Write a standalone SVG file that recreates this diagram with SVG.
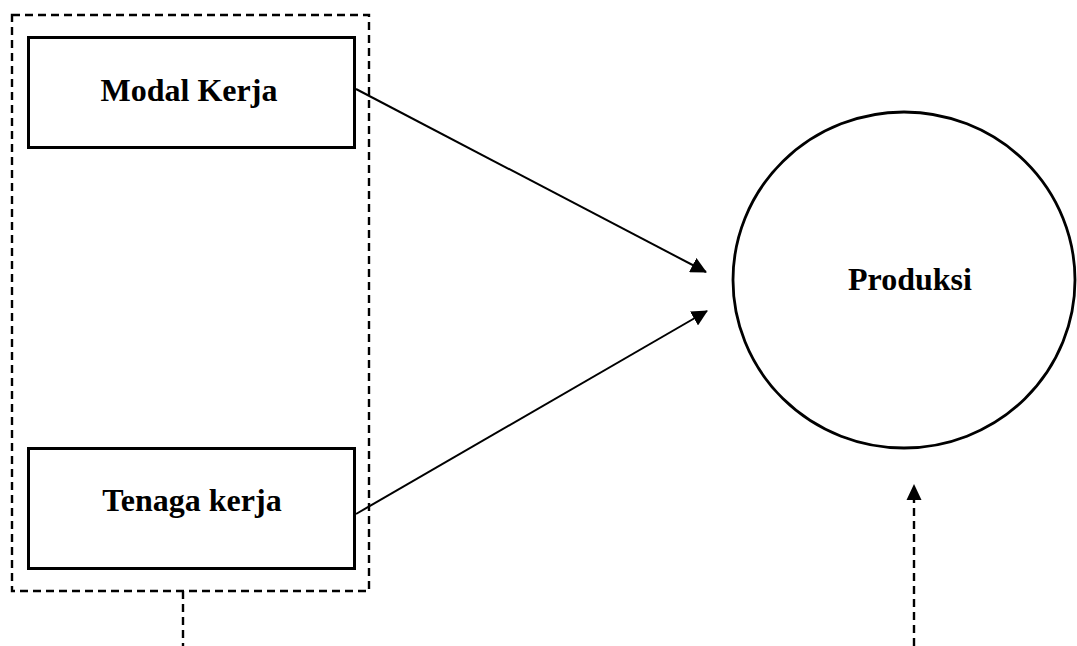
<svg xmlns="http://www.w3.org/2000/svg" width="1077" height="646" viewBox="0 0 1077 646">
<style>
.box{fill:#fff;stroke:#000;stroke-width:3}
.dash{fill:none;stroke:#000;stroke-width:2.4;stroke-dasharray:8,5}
.ln{fill:none;stroke:#000;stroke-width:2}
.lbl{font-family:"Liberation Serif","Times New Roman",serif;font-weight:bold;font-size:32px;text-anchor:middle;fill:#000}
</style>
<defs>
<marker id="ah2" markerWidth="16" markerHeight="16" refX="15" refY="8" orient="auto" markerUnits="userSpaceOnUse" viewBox="0 0 16 16">
<path d="M0,0 L16,8 L0,16 Z" fill="#000"/>
</marker>
</defs>
<g id="group">
<rect class="dash" x="12" y="15" width="357" height="576"/>
</g>
<g id="modal">
<rect class="box" x="28.5" y="37.5" width="326" height="110"/>
<text class="lbl" x="189" y="101">Modal Kerja</text>
</g>
<g id="tenaga">
<rect class="box" x="28.5" y="448.5" width="326" height="120"/>
<text class="lbl" x="192" y="511">Tenaga kerja</text>
</g>
<g id="produksi">
<ellipse cx="904" cy="280" rx="171" ry="168" fill="#fff" stroke="#000" stroke-width="2.8"/>
<text class="lbl" x="910" y="290">Produksi</text>
</g>
<g id="connectors">
<line class="ln" x1="356" y1="89" x2="706" y2="272" marker-end="url(#ah2)"/>
<line class="ln" x1="356" y1="514" x2="707" y2="311" marker-end="url(#ah2)"/>
<line class="dash" x1="183" y1="591" x2="183" y2="646"/>
<line class="dash" x1="914" y1="646" x2="914" y2="500"/>
<path d="M914,484 L906.5,500 L921.5,500 Z" fill="#000"/>
</g>
</svg>
